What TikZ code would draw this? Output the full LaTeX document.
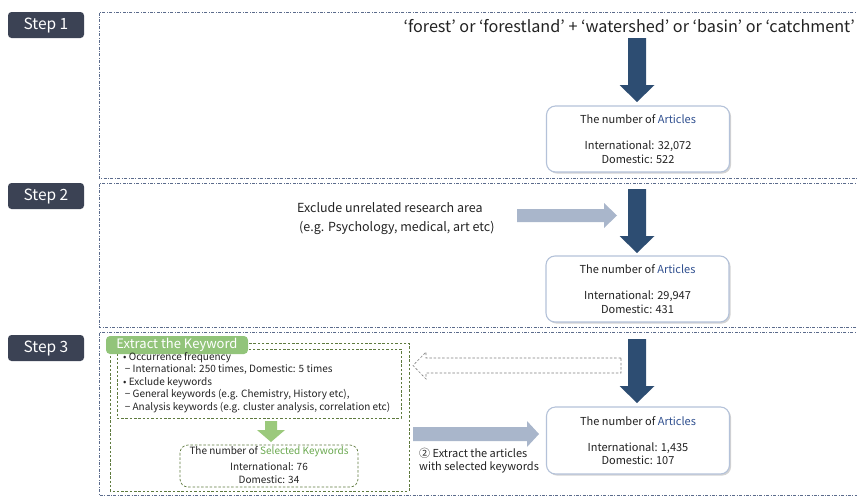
\documentclass[tikz,border=0pt]{standalone}
\usepackage{fontspec}
\setmainfont{Noto Sans CJK KR}
\usetikzlibrary{shadows,calc}
\definecolor{badgec}{HTML}{3B4254}
\definecolor{framec}{HTML}{5B6B8C}
\definecolor{darkarr}{HTML}{2D4D72}
\definecolor{lightarr}{HTML}{A9B6CB}
\definecolor{artblue}{HTML}{2F4F8F}
\definecolor{boxborder}{HTML}{B4C2D9}
\definecolor{gframe}{HTML}{5E7A3E}
\definecolor{glabel}{HTML}{92C47A}
\definecolor{gtext}{HTML}{6AA84F}
\definecolor{garrow}{HTML}{9BC97C}
\definecolor{txt}{HTML}{222222}
\newcommand{\blockdown}[5]{%
  \fill[#1] (#2-9,#3) -- (#2+9,#3) -- (#2+9,#4) -- (#2+17.5,#4) -- (#2,#5) -- (#2-17.5,#4) -- (#2-9,#4) -- cycle;}
\begin{document}
\begin{tikzpicture}[x=1pt,y=-1pt,
  stepbadge/.style={fill=badgec,rounded corners=3.5pt,minimum width=76pt,minimum height=26pt,inner sep=0pt,text=white,font=\fontsize{15.5}{18}\selectfont},
  stepframe/.style={draw=framec,line width=0.6pt,dash pattern=on 3pt off 1.5pt on 0.8pt off 1.5pt},
  artbox/.style={draw=boxborder,line width=1.1pt,fill=white,rounded corners=9pt,minimum width=183pt,inner sep=0pt,align=center,text=txt,
    font=\fontsize{11}{13.2}\selectfont,drop shadow={opacity=0.35,shadow xshift=1.6pt,shadow yshift=-1.6pt}},
  gdash/.style={draw=gframe,line width=0.7pt,dash pattern=on 2.5pt off 1.8pt},
  plain/.style={inner sep=0pt,text=txt}
]
\useasboundingbox (0,0) rectangle (857,496);
\clip (0,0) rectangle (857,496);
% frames
\draw[stepframe] (860,12) -- (99,12) -- (99,178) -- (860,178);
\draw[stepframe] (860,183) -- (99,183) -- (99,327) -- (860,327);
\draw[stepframe] (860,332) -- (99,332) -- (99,495) -- (860,495);
% badges
\node[stepbadge] (s1) at (46,25) {Step 1};
\node[stepbadge] (s2) at (46,196) {Step 2};
\node[stepbadge] (s3) at (46,348) {Step 3};
% step 1
\node[plain,anchor=east,font=\fontsize{16.2}{20}\selectfont] (query) at (855,26) {‘forest’ or ‘forestland’ + ‘watershed’ or ‘basin’ or ‘catchment’};
\blockdown{darkarr}{637}{38}{85}{102}
\node[artbox,minimum height=66pt] (b1) at (638,139) {The number of \textcolor{artblue}{Articles}\\[13pt]International: 32,072\\Domestic: 522};
% step 2
\node[plain,anchor=west,align=left,font=\fontsize{12.5}{19}\selectfont] (excl) at (297,218.5) {Exclude unrelated research area\\\hspace*{2pt}(e.g. Psychology, medical, art etc)};
\fill[lightarr] (517,209) -- (604,209) -- (604,203) -- (617,215.5) -- (604,228) -- (604,222) -- (517,222) -- cycle;
\blockdown{darkarr}{637}{189}{236}{253}
\node[artbox,minimum height=66pt] (b2) at (637.5,289) {The number of \textcolor{artblue}{Articles}\\[13pt]International: 29,947\\Domestic: 431};
% step 3
\draw[gdash] (110,343) rectangle (409,491);
\draw[gdash] (117,349) rectangle (401,418);
\node[fill=glabel,rounded corners=4pt,minimum width=142pt,minimum height=18pt,inner sep=0pt,text=white,font=\fontsize{13}{15}\selectfont] (lab) at (177,345) {Extract the Keyword};
\node[plain,anchor=north west,align=left,font=\fontsize{10}{12.5}\selectfont] (kw) at (123,352) {• Occurrence frequency\\\,− International: 250 times, Domestic: 5 times\\• Exclude keywords\\\,− General keywords (e.g. Chemistry, History etc),\\\,− Analysis keywords (e.g. cluster analysis, correlation etc)};
\fill[garrow] (265,421) -- (277,421) -- (277,430) -- (285,430) -- (271,442) -- (257,430) -- (265,430) -- cycle;
\draw[gdash,rounded corners=8pt] (180,445) rectangle (358,487);
\node[plain,align=center,font=\fontsize{10}{13}\selectfont] (sk) at (269,465.5) {The number of \textcolor{gtext}{Selected Keywords}\\[3pt]International: 76\\Domestic: 34};
\draw[gray,line width=0.6pt,dash pattern=on 2.5pt off 1.8pt,fill=white] (621,358) -- (426,358) -- (426,352) -- (413,365.5) -- (426,379) -- (426,373) -- (621,373) -- cycle;
\blockdown{darkarr}{637}{339}{386}{403}
\fill[lightarr] (413,427) -- (527,427) -- (527,421) -- (539,434) -- (527,447) -- (527,441) -- (413,441) -- cycle;
\node[plain,anchor=west,align=left,font=\fontsize{11}{13}\selectfont] (ext) at (419,460.5) {② Extract the articles\\with selected keywords};
\node[artbox,minimum height=67pt] (b3) at (638,440.5) {The number of \textcolor{artblue}{Articles}\\[13pt]International: 1,435\\Domestic: 107};
\end{tikzpicture}
\end{document}
